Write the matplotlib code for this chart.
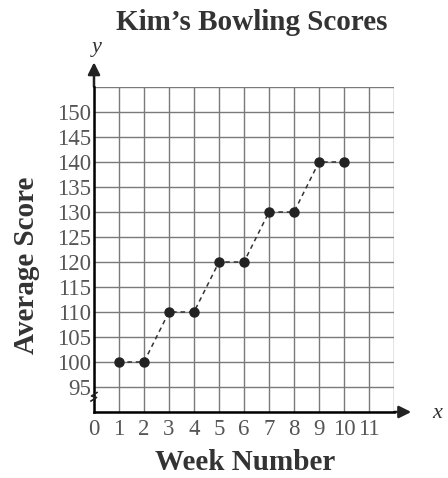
import matplotlib
matplotlib.use("Agg")
import matplotlib.pyplot as plt

weeks = [1, 2, 3, 4, 5, 6, 7, 8, 9, 10]
scores = [100, 100, 110, 110, 120, 120, 130, 130, 140, 140]
x_ticks = list(range(0, 12))
y_ticks = list(range(95, 151, 5))

plt.rcParams['font.family'] = ['Liberation Serif', 'DejaVu Serif']

fig = plt.figure(figsize=(4.48, 4.78), dpi=100)
ax = fig.add_axes([94/448, 1-412/478, 300/448, 325/478])
ax.set_xlim(0, 12)
ax.set_ylim(90, 155)

# grid
for gx in range(0, 13):
    ax.axvline(gx, color='#7a7a7a', lw=1.0, zorder=1)
for gy in range(90, 156, 5):
    ax.axhline(gy, color='#7a7a7a', lw=1.0, zorder=1)

for s in ['top', 'right']:
    ax.spines[s].set_visible(False)
ax.spines['left'].set_linewidth(1.8)
ax.spines['bottom'].set_linewidth(1.8)
ax.spines['left'].set_zorder(3)
ax.spines['bottom'].set_zorder(3)

ax.plot(weeks, scores, linestyle=(0, (3, 2.5)), color='#333333', lw=1.1, zorder=4)
ax.plot(weeks, scores, 'o', color='#222222', ms=6.5, zorder=5)

ax.set_xticks(x_ticks)
ax.set_yticks(y_ticks)
ax.tick_params(length=0, labelsize=16.5, colors='#555555')
ax.tick_params(axis='x', pad=5)
ax.tick_params(axis='y', pad=2)
ax.set_xticklabels([str(t) for t in x_ticks])

# arrows
ax.annotate('', xy=(0, 160.5), xytext=(0, 154.5), annotation_clip=False,
            arrowprops=dict(arrowstyle='-|>', color='#222222', lw=1.8, mutation_scale=18))
ax.annotate('', xy=(12.8, 90), xytext=(11.9, 90), annotation_clip=False,
            arrowprops=dict(arrowstyle='-|>', color='#222222', lw=1.8, mutation_scale=18))

# axis break
ax.plot([-0.12, 0.1, -0.1, 0.12], [92.2, 92.9, 93.2, 93.9], color='#222222', lw=1.2,
        clip_on=False, zorder=6)

fig.text(97/448, 1-47/478, 'y', fontsize=16, style='italic', ha='center', va='center', color='#333333')
fig.text(437/448, 1-413/478, 'x', fontsize=16, style='italic', ha='center', va='center', color='#333333')

fig.text(252/448, 1-22/478, "Kim\u2019s Bowling Scores", fontsize=21, fontweight='bold',
         ha='center', va='center', color='#333333')
fig.text(245/448, 1-462/478, 'Week Number', fontsize=21, fontweight='bold',
         ha='center', va='center', color='#333333')
fig.text(27/448, 1-265/478, 'Average Score', fontsize=21, fontweight='bold', rotation=90,
         ha='center', va='center', color='#333333')

fig.savefig('out.png', dpi=100)
